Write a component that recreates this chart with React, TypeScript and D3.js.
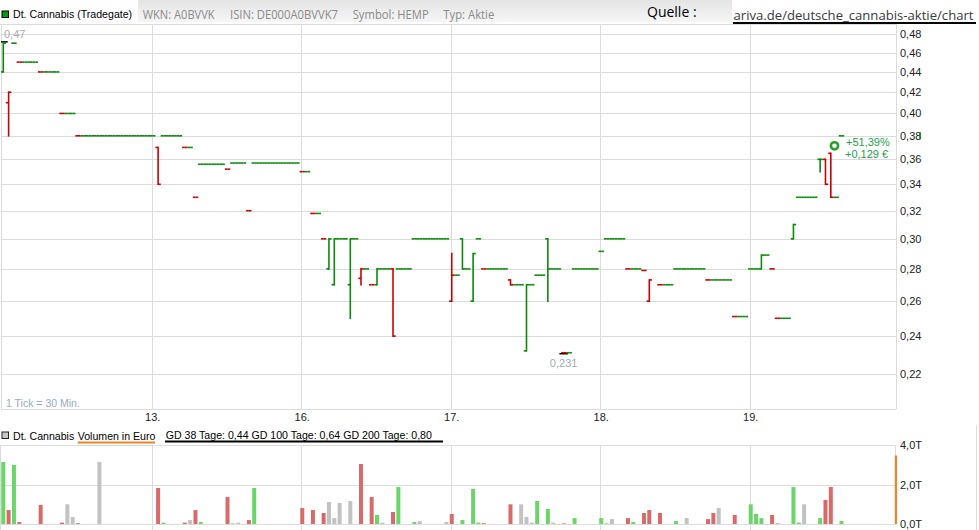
import React from "react";
import * as d3 from "d3";

// ---------- data ----------
const priceTicks = [0.22, 0.24, 0.26, 0.28, 0.3, 0.32, 0.34, 0.36, 0.38, 0.4, 0.42, 0.44, 0.46, 0.48];
const dayLabels = ["13.", "16.", "17.", "18.", "19."];
const dayStartSlots = [28, 56, 84, 112, 140];
const volTicks = [0, 2, 4];
const volTickLabels = ["0,0T", "2,0T", "4,0T"];

// [slot (30-min tick), open, high, low, close]
const ohlc: [number, number, number, number, number][] = [
  [0, 0.44, 0.47, 0.44, 0.47],
  [1, 0.41, 0.42, 0.38, 0.42],
  [2, 0.47, 0.47, 0.47, 0.47],
  [3, 0.45, 0.45, 0.45, 0.45],
  [4, 0.45, 0.45, 0.45, 0.45],
  [5, 0.45, 0.45, 0.45, 0.45],
  [6, 0.45, 0.45, 0.45, 0.45],
  [7, 0.44, 0.44, 0.44, 0.44],
  [8, 0.44, 0.44, 0.44, 0.44],
  [9, 0.44, 0.44, 0.44, 0.44],
  [10, 0.44, 0.44, 0.44, 0.44],
  [11, 0.4, 0.4, 0.4, 0.4],
  [12, 0.4, 0.4, 0.4, 0.4],
  [13, 0.4, 0.4, 0.4, 0.4],
  [14, 0.38, 0.38, 0.38, 0.38],
  [15, 0.38, 0.38, 0.38, 0.38],
  [16, 0.38, 0.38, 0.38, 0.38],
  [17, 0.38, 0.38, 0.38, 0.38],
  [18, 0.38, 0.38, 0.38, 0.38],
  [19, 0.38, 0.38, 0.38, 0.38],
  [20, 0.38, 0.38, 0.38, 0.38],
  [21, 0.38, 0.38, 0.38, 0.38],
  [22, 0.38, 0.38, 0.38, 0.38],
  [23, 0.38, 0.38, 0.38, 0.38],
  [24, 0.38, 0.38, 0.38, 0.38],
  [25, 0.38, 0.38, 0.38, 0.38],
  [26, 0.38, 0.38, 0.38, 0.38],
  [27, 0.38, 0.38, 0.38, 0.38],
  [28, 0.38, 0.38, 0.38, 0.38],
  [29, 0.37, 0.37, 0.34, 0.34],
  [30, 0.38, 0.38, 0.38, 0.38],
  [31, 0.38, 0.38, 0.38, 0.38],
  [32, 0.38, 0.38, 0.38, 0.38],
  [33, 0.38, 0.38, 0.38, 0.38],
  [34, 0.37, 0.37, 0.37, 0.37],
  [35, 0.37, 0.37, 0.37, 0.37],
  [36, 0.33, 0.33, 0.33, 0.33],
  [37, 0.356, 0.356, 0.356, 0.356],
  [38, 0.356, 0.356, 0.356, 0.356],
  [39, 0.356, 0.356, 0.356, 0.356],
  [40, 0.356, 0.356, 0.356, 0.356],
  [41, 0.356, 0.356, 0.356, 0.356],
  [42, 0.352, 0.352, 0.352, 0.352],
  [43, 0.357, 0.357, 0.357, 0.357],
  [44, 0.357, 0.357, 0.357, 0.357],
  [45, 0.357, 0.357, 0.357, 0.357],
  [46, 0.32, 0.32, 0.32, 0.32],
  [47, 0.357, 0.357, 0.357, 0.357],
  [48, 0.357, 0.357, 0.357, 0.357],
  [49, 0.357, 0.357, 0.357, 0.357],
  [50, 0.357, 0.357, 0.357, 0.357],
  [51, 0.357, 0.357, 0.357, 0.357],
  [52, 0.357, 0.357, 0.357, 0.357],
  [53, 0.357, 0.357, 0.357, 0.357],
  [54, 0.357, 0.357, 0.357, 0.357],
  [55, 0.357, 0.357, 0.357, 0.357],
  [56, 0.35, 0.35, 0.35, 0.35],
  [57, 0.35, 0.35, 0.35, 0.35],
  [58, 0.318, 0.318, 0.318, 0.318],
  [59, 0.318, 0.318, 0.318, 0.318],
  [60, 0.3, 0.3, 0.3, 0.3],
  [61, 0.28, 0.3, 0.28, 0.3],
  [62, 0.27, 0.3, 0.27, 0.3],
  [63, 0.3, 0.3, 0.3, 0.3],
  [64, 0.3, 0.3, 0.3, 0.3],
  [65, 0.27, 0.3, 0.25, 0.3],
  [66, 0.3, 0.3, 0.3, 0.3],
  [67, 0.274, 0.28, 0.27, 0.28],
  [68, 0.28, 0.28, 0.28, 0.28],
  [69, 0.27, 0.27, 0.27, 0.27],
  [70, 0.27, 0.28, 0.27, 0.28],
  [71, 0.28, 0.28, 0.28, 0.28],
  [72, 0.28, 0.28, 0.28, 0.28],
  [73, 0.28, 0.28, 0.24, 0.24],
  [74, 0.28, 0.28, 0.28, 0.28],
  [75, 0.28, 0.28, 0.28, 0.28],
  [76, 0.28, 0.28, 0.28, 0.28],
  [77, 0.3, 0.3, 0.3, 0.3],
  [78, 0.3, 0.3, 0.3, 0.3],
  [79, 0.3, 0.3, 0.3, 0.3],
  [80, 0.3, 0.3, 0.3, 0.3],
  [81, 0.3, 0.3, 0.3, 0.3],
  [82, 0.3, 0.3, 0.3, 0.3],
  [83, 0.3, 0.3, 0.3, 0.3],
  [84, 0.26, 0.29, 0.26, 0.276],
  [85, 0.276, 0.276, 0.276, 0.276],
  [86, 0.3, 0.3, 0.28, 0.28],
  [87, 0.28, 0.28, 0.28, 0.28],
  [88, 0.26, 0.29, 0.26, 0.29],
  [89, 0.3, 0.3, 0.3, 0.3],
  [90, 0.28, 0.28, 0.28, 0.28],
  [91, 0.28, 0.28, 0.28, 0.28],
  [92, 0.28, 0.28, 0.28, 0.28],
  [93, 0.28, 0.28, 0.28, 0.28],
  [94, 0.28, 0.28, 0.28, 0.28],
  [95, 0.273, 0.273, 0.27, 0.27],
  [96, 0.27, 0.27, 0.27, 0.27],
  [97, 0.27, 0.27, 0.27, 0.27],
  [98, 0.232, 0.27, 0.232, 0.27],
  [99, 0.27, 0.27, 0.27, 0.27],
  [100, 0.276, 0.276, 0.276, 0.276],
  [101, 0.276, 0.276, 0.276, 0.276],
  [102, 0.3, 0.3, 0.26, 0.28],
  [103, 0.28, 0.28, 0.28, 0.28],
  [104, 0.28, 0.28, 0.28, 0.28],
  [105, 0.231, 0.231, 0.231, 0.231],
  [106, 0.231, 0.231, 0.231, 0.231],
  [107, 0.28, 0.28, 0.28, 0.28],
  [108, 0.28, 0.28, 0.28, 0.28],
  [109, 0.28, 0.28, 0.28, 0.28],
  [110, 0.28, 0.28, 0.28, 0.28],
  [111, 0.28, 0.28, 0.28, 0.28],
  [112, 0.2915, 0.2915, 0.2915, 0.2915],
  [113, 0.3, 0.3, 0.3, 0.3],
  [114, 0.3, 0.3, 0.3, 0.3],
  [115, 0.3, 0.3, 0.3, 0.3],
  [116, 0.3, 0.3, 0.3, 0.3],
  [117, 0.28, 0.28, 0.28, 0.28],
  [118, 0.28, 0.28, 0.28, 0.28],
  [119, 0.28, 0.28, 0.28, 0.28],
  [120, 0.279, 0.279, 0.279, 0.279],
  [121, 0.26, 0.273, 0.26, 0.273],
  [123, 0.27, 0.27, 0.27, 0.27],
  [124, 0.27, 0.27, 0.27, 0.27],
  [125, 0.27, 0.27, 0.27, 0.27],
  [126, 0.28, 0.28, 0.28, 0.28],
  [127, 0.28, 0.28, 0.28, 0.28],
  [128, 0.28, 0.28, 0.28, 0.28],
  [129, 0.28, 0.28, 0.28, 0.28],
  [130, 0.28, 0.28, 0.28, 0.28],
  [131, 0.28, 0.28, 0.28, 0.28],
  [132, 0.273, 0.273, 0.273, 0.273],
  [133, 0.273, 0.273, 0.273, 0.273],
  [134, 0.273, 0.273, 0.273, 0.273],
  [135, 0.273, 0.273, 0.273, 0.273],
  [136, 0.273, 0.273, 0.273, 0.273],
  [137, 0.251, 0.251, 0.251, 0.251],
  [138, 0.251, 0.251, 0.251, 0.251],
  [139, 0.251, 0.251, 0.251, 0.251],
  [140, 0.28, 0.28, 0.28, 0.28],
  [141, 0.28, 0.28, 0.28, 0.28],
  [142, 0.28, 0.289, 0.28, 0.289],
  [143, 0.289, 0.289, 0.289, 0.289],
  [144, 0.28, 0.28, 0.28, 0.28],
  [145, 0.25, 0.25, 0.25, 0.25],
  [146, 0.25, 0.25, 0.25, 0.25],
  [147, 0.25, 0.25, 0.25, 0.25],
  [148, 0.3, 0.31, 0.3, 0.31],
  [149, 0.33, 0.33, 0.33, 0.33],
  [150, 0.33, 0.33, 0.33, 0.33],
  [151, 0.33, 0.33, 0.33, 0.33],
  [152, 0.33, 0.33, 0.33, 0.33],
  [153, 0.36, 0.36, 0.35, 0.36],
  [154, 0.36, 0.36, 0.34, 0.34],
  [155, 0.365, 0.365, 0.33, 0.33],
  [156, 0.33, 0.33, 0.33, 0.33],
  [157, 0.38, 0.38, 0.38, 0.38],
];

// [slot, volume in thousand euro (T), direction: g=up r=down n=unchanged]
const volumes: [number, number, string][] = [
  [0, 3.15, "g"], [1, 0.71, "r"], [2, 3.0, "g"], [3, 0.1, "r"], [7, 0.97, "r"], [11, 0.07, "r"],
  [12, 1.0, "n"], [13, 0.35, "n"], [14, 0.04, "r"], [18, 3.15, "n"], [29, 1.83, "r"], [30, 0.07, "g"],
  [34, 0.07, "r"], [35, 0.2, "n"], [36, 0.71, "r"], [37, 0.1, "g"], [42, 1.37, "r"], [43, 0.03, "g"],
  [44, 0.07, "n"], [46, 0.2, "r"], [47, 1.83, "g"], [56, 0.81, "r"], [58, 0.71, "r"], [60, 0.56, "r"],
  [61, 1.12, "n"], [62, 0.3, "n"], [63, 1.07, "n"], [65, 1.17, "n"], [67, 3.05, "r"], [69, 1.37, "r"],
  [70, 0.46, "g"], [71, 0.07, "n"], [73, 0.61, "r"], [74, 1.88, "g"], [77, 0.1, "g"], [78, 0.15, "n"],
  [83, 0.1, "n"], [84, 0.51, "r"], [86, 0.2, "g"], [88, 1.78, "g"], [89, 0.07, "g"], [90, 0.04, "r"],
  [95, 1.0, "r"], [97, 1.0, "n"], [98, 0.36, "n"], [99, 0.07, "n"], [100, 1.17, "g"], [102, 0.76, "g"],
  [103, 0.07, "n"], [105, 0.03, "r"], [107, 0.3, "g"], [112, 0.3, "g"], [113, 0.03, "g"], [114, 0.25, "n"],
  [117, 0.3, "r"], [118, 0.1, "g"], [120, 0.56, "r"], [121, 0.71, "r"], [123, 0.56, "r"], [126, 0.15, "g"],
  [128, 0.3, "n"], [132, 0.25, "r"], [133, 0.56, "r"], [134, 0.81, "n"], [137, 0.46, "r"], [140, 1.0, "g"],
  [141, 0.51, "g"], [142, 0.3, "g"], [144, 0.46, "r"], [145, 0.03, "r"], [148, 1.88, "g"], [149, 0.07, "g"],
  [150, 1.0, "n"], [153, 0.3, "g"], [154, 1.22, "r"], [155, 1.88, "r"], [157, 0.15, "g"],
];
const currentVolume = 3.48;

const headerInfo = ["WKN: A0BVVK", "ISIN: DE000A0BVVK7", "Symbol: HEMP", "Typ: Aktie"];
const changePct = "+51,39%";
const changeAbs = "+0,129 €";
const gdText = "GD 38 Tage: 0,44 GD 100 Tage: 0,64  GD 200 Tage: 0,80";

// ---------- layout ----------
const W = 979;
const H = 530;
const plotL = 1;
const plotR = 896;
const plotT = 24;
const plotB = 409;
const volT = 445.3;
const volB = 524;
const slotW = 5.339;
const FONT = "'Liberation Sans', Arial, sans-serif";
const GRID = "#dcdcdc";
const UP = "#0a8a0a";
const DOWN = "#cc0000";
const volColor: Record<string, string> = { g: "#6ad66a", r: "#d96a6a", n: "#c2c2c2" };

const fmt = (v: number, d: number) => v.toFixed(d).replace(".", ",");

export default function App() {
  const x = d3.scaleLinear().domain([0, 168]).range([3.27, 3.27 + 168 * slotW]);
  const y = d3.scaleLog().domain([0.48, 0.22]).range([34, 374]);
  const vy = d3.scaleLinear().domain([0, 4]).range([volB, volT]);
  const hw = slotW / 2;

  const highs = ohlc.map((b) => b[2]);
  const lows = ohlc.map((b) => b[3]);
  const maxP = d3.max(highs)!;
  const minP = d3.min(lows)!;
  const maxBar = ohlc.find((b) => b[2] === maxP)!;
  const minBar = ohlc.find((b) => b[3] === minP)!;
  const last = ohlc[ohlc.length - 1];

  return (
    <svg
      width={W}
      height={H}
      style={{ position: "absolute", left: 0, top: 0, background: "#fff" }}
      fontFamily={FONT}
    >
      <defs>
        <linearGradient id="hdr" x1="0" y1="0" x2="0" y2="1">
          <stop offset="0" stopColor="#e4e4e4" />
          <stop offset="1" stopColor="#f6f6f6" />
        </linearGradient>
        <clipPath id="plotClip">
          <rect x={plotL} y={plotT} width={plotR - plotL} height={plotB - plotT} />
        </clipPath>
      </defs>

      {/* header */}
      <rect x={138} y={0} width={594} height={22} fill="url(#hdr)" />
      <rect x={2} y={11} width={6.5} height={6.5} fill="#00a000" stroke="#000" strokeWidth={1} />
      <text x={13} y={18} fontSize={10.6} fill="#000">Dt. Cannabis (Tradegate)</text>
      {headerInfo.map((t, i) => (
        <text
          key={t}
          x={[142.7, 230, 352.7, 443.3][i]}
          y={18.5}
          fontSize={12.5}
          fontFamily="'Open Sans', sans-serif"
          fill="#8a8a8a"
          textLength={[72, 108, 76, 51][i]}
          lengthAdjust="spacingAndGlyphs"
        >
          {t}
        </text>
      ))}
      <text x={647} y={16.5} fontSize={14} fontFamily="'Open Sans', sans-serif" fill="#000">Quelle :</text>
      <text
        x={733.5}
        y={19.5}
        fontSize={13.3}
        fontFamily="'Open Sans', sans-serif"
        fill="#3a3a3a"
        textLength={240}
        lengthAdjust="spacingAndGlyphs"
      >
        ariva.de/deutsche_cannabis-aktie/chart
      </text>
      <line x1={733} x2={976} y1={23} y2={23} stroke="#000" strokeWidth={2} />

      {/* price grid */}
      <g stroke={GRID} strokeWidth={1}>
        {priceTicks.map((t) => (
          <line key={t} x1={plotL} x2={plotR} y1={Math.round(y(t)) + 0.5} y2={Math.round(y(t)) + 0.5} />
        ))}
        {dayStartSlots.map((s) => (
          <line key={s} x1={Math.round(x(s)) - 0.5} x2={Math.round(x(s)) - 0.5} y1={plotT} y2={plotB} />
        ))}
        <line x1={0} x2={plotR} y1={plotT + 0.5} y2={plotT + 0.5} />
        <line x1={plotL + 0.5} x2={plotL + 0.5} y1={plotT} y2={plotB} />
        <line x1={plotR + 0.5} x2={plotR + 0.5} y1={plotT} y2={plotB} />
        <line x1={plotL} x2={plotR} y1={plotB + 0.5} y2={plotB + 0.5} />
      </g>

      {/* y labels */}
      {priceTicks.map((t) => (
        <text key={t} x={900} y={y(t) + 4} fontSize={11} fill="#222">
          {fmt(t, 2)}
        </text>
      ))}
      <rect x={919.3} y={y(last[4]) - 3.5} width={1.5} height={7} fill={UP} />

      {/* x labels */}
      {dayStartSlots.map((s, i) => (
        <text key={s} x={x(s)} y={421} fontSize={11} textAnchor="middle" fill="#222">
          {dayLabels[i]}
        </text>
      ))}

      <text x={6} y={407} fontSize={10.5} fill="#9aaabb">1 Tick = 30 Min.</text>

      {/* extremes */}
      <g clipPath="url(#plotClip)">
        <line
          x1={x(maxBar[0]) - 3.5}
          x2={x(maxBar[0]) + 4.5}
          y1={y(maxP) - 1.3}
          y2={y(maxP) - 1.3}
          stroke="#000"
          strokeWidth={1.5}
        />
        <line
          x1={x(minBar[0]) - 4.5}
          x2={x(minBar[0]) + 4}
          y1={y(minP) + 1}
          y2={y(minP) + 1}
          stroke="#000"
          strokeWidth={1.5}
        />
        {ohlc.map((b, i) => {
          const [s, o, h, l, c] = b;
          const prevC = i > 0 ? ohlc[i - 1][4] : o;
          const col = c >= prevC ? UP : DOWN;
          const cx = x(s);
          return (
            <g key={s} stroke={col} strokeWidth={1.6} fill="none">
              {h > l && <line x1={cx} x2={cx} y1={y(h) - 0.8} y2={y(l) + 0.8} />}
              <line x1={cx - hw} x2={cx} y1={y(o)} y2={y(o)} />
              <line x1={cx} x2={cx + hw} y1={y(c)} y2={y(c)} />
            </g>
          );
        })}
      </g>
      <text x={4} y={38} fontSize={11} fill="#aaaaaa">{fmt(maxP, 2)}</text>
      <text x={x(minBar[0]) - 14} y={367} fontSize={11} fill="#a0a8b8">{fmt(minP, 3)}</text>

      {/* last price marker */}
      <circle cx={x(last[0]) - 7} cy={y(last[4]) + 10} r={3.6} fill="#fff" stroke="#2aa02a" strokeWidth={2.6} />
      <text x={846} y={145.5} fontSize={11} fill="#22a24a">{changePct}</text>
      <text x={845} y={158} fontSize={11} fill="#22a24a">{changeAbs}</text>

      {/* volume header */}
      <rect x={2} y={432} width={6.5} height={6.5} fill="#c8c8c8" stroke="#222" strokeWidth={1} />
      <text x={13} y={439.5} fontSize={10.6} fill="#000">Dt. Cannabis</text>
      <text x={77.7} y={439.5} fontSize={10.6} fill="#000">Volumen in Euro</text>
      <line x1={77.7} x2={155} y1={442.5} y2={442.5} stroke="#f58220" strokeWidth={2} />
      <text x={165.7} y={438.5} fontSize={10.6} fill="#000">{gdText}</text>
      <line x1={165} x2={443} y1={441.5} y2={441.5} stroke="#000" strokeWidth={2} />

      {/* volume grid */}
      <g stroke={GRID} strokeWidth={1}>
        {volTicks.map((t) => (
          <line key={t} x1={0} x2={plotR - 0.5} y1={Math.round(vy(t)) + 0.5} y2={Math.round(vy(t)) + 0.5} />
        ))}
        {dayStartSlots.map((s) => (
          <line key={s} x1={Math.round(x(s)) - 0.5} x2={Math.round(x(s)) - 0.5} y1={volT} y2={H} />
        ))}
        <line x1={0.5} x2={0.5} y1={volT} y2={H} />
        <line x1={plotR - 0.5} x2={plotR - 0.5} y1={volT} y2={volB} />
        <line x1={976.5} x2={976.5} y1={425} y2={H} />
      </g>
      {volumes.map(([s, v, d]) => (
        <rect key={s} x={x(s) - 2} width={4} y={vy(v)} height={volB - vy(v)} fill={volColor[d]} />
      ))}
      <rect x={894.8} width={2.2} y={vy(currentVolume)} height={volB - vy(currentVolume)} fill="#f58220" />
      {volTicks.map((t, i) => (
        <text key={t} x={900} y={vy(t) + 4} fontSize={11} fill="#222">
          {volTickLabels[i]}
        </text>
      ))}
    </svg>
  );
}
